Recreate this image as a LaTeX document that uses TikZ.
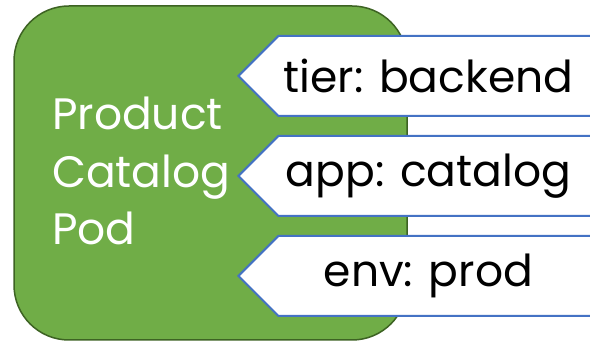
\documentclass[tikz,border=0pt]{standalone}
\usepackage{fontspec}
\setmainfont{Poppins}
\usetikzlibrary{positioning,shapes.symbols}
\definecolor{podgreen}{HTML}{70AD47}
\definecolor{poddark}{HTML}{3D6323}
\definecolor{tagblue}{HTML}{4472C4}

\begin{document}
\begin{tikzpicture}[x=1pt,y=1pt,node distance=18pt,
                    font=\fontsize{44}{57.5}\selectfont]

  \tikzstyle{pod}=[rectangle,rounded corners=55pt,fill=podgreen,draw=poddark,
                   line width=1.5pt,minimum width=393pt,minimum height=334pt]
  \tikzstyle{tag}=[signal,signal to=west,signal pointer angle=90,fill=white,
                   draw=tagblue,line width=2pt,minimum width=390pt,
                   minimum height=80pt,inner sep=0pt,
                   execute at end node={\hspace*{50pt}}]

  \useasboundingbox (0,0) rectangle (590,-344);
  \clip (0,0) rectangle (590,-344);

  \node[pod] (pod) at (210.5,-173) {};
  \node[text=white,align=left,anchor=base west,inner sep=0pt] (name)
       at (52,-245) {Product\\Catalog\\Pod};

  \node[tag,anchor=west] (tier) at (237,-76) {tier: backend};
  \node[tag,below=of tier] (app) {app: catalog};
  \node[tag,below=of app] (env) {env: prod};
\end{tikzpicture}
\end{document}
